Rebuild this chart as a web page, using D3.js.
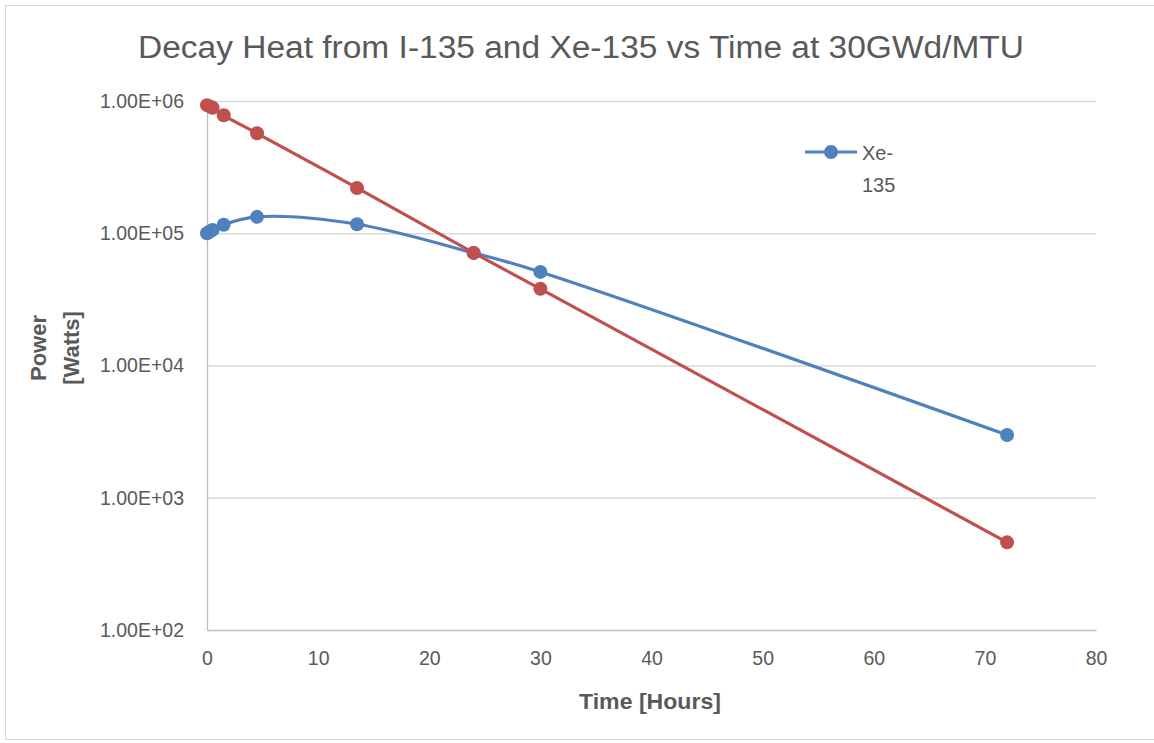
<!DOCTYPE html>
<html>
<head>
<meta charset="utf-8">
<script src="https://cdn.jsdelivr.net/npm/d3@7"></script>
<style>
  html, body { margin: 0; padding: 0; background: #fff; }
  svg { display: block; font-family: "Liberation Sans", Arial, sans-serif; }
</style>
</head>
<body>
<svg id="chart" width="1154" height="743"></svg>
<script>
// Time after shutdown (hours)
const hours = [0, 0.25, 0.5, 1.5, 4.5, 13.5, 24, 30, 72];
// Decay heat (W) from Xe-135
const xe135 = [1.0e5, 1.03e5, 1.06e5, 1.16e5, 1.33e5, 1.17e5, 7.1e4, 5.1e4, 2.98e3];
// Decay heat (W) from I-135
const i135 = [9.3e5, 9.1e5, 8.9e5, 7.8e5, 5.7e5, 2.2e5, 7.1e4, 3.8e4, 460];

const xTicks = [0, 10, 20, 30, 40, 50, 60, 70, 80];
const yTicks = [1e2, 1e3, 1e4, 1e5, 1e6];
const yTickLabels = ["1.00E+02", "1.00E+03", "1.00E+04", "1.00E+05", "1.00E+06"];

const titleText = "Decay Heat from I-135 and Xe-135 vs Time at 30GWd/MTU";
const xTitle = "Time [Hours]";
const yTitleLines = ["Power", "[Watts]"];
const legendLines = ["Xe-", "135"];

const BLUE = "#4f81bd", RED = "#c0504d", TEXT = "#595959";

const svg = d3.select("#chart");

// outer chart border
svg.append("rect")
  .attr("x", 5.5).attr("y", 5.5).attr("width", 1160).attr("height", 734)
  .attr("fill", "#fff").attr("stroke", "#d9d9d9");

const plot = { left: 207, right: 1096, top: 101, bottom: 630 };

const x = d3.scaleLinear().domain([0, 80]).range([plot.left, plot.right]);
const y = d3.scaleLog().domain([1e2, 1e6]).range([plot.bottom, plot.top]);

// horizontal gridlines
const gridAxis = d3.axisLeft(y).tickValues(yTicks.slice(1))
  .tickSize(-(plot.right - plot.left)).tickFormat("");
const grid = svg.append("g").attr("transform", `translate(${plot.left},0)`).call(gridAxis);
grid.select(".domain").remove();
grid.selectAll("line").attr("stroke", "#d9d9d9").attr("stroke-width", 1.3);

// y axis
const yAxis = d3.axisLeft(y).tickValues(yTicks).tickSize(0).tickPadding(23)
  .tickFormat((d, i) => yTickLabels[i]);
const gy = svg.append("g").attr("transform", `translate(${plot.left},0)`).call(yAxis);
gy.select(".domain").attr("stroke", "#bfbfbf").attr("stroke-width", 1.3);
gy.selectAll("text").attr("fill", TEXT).style("font-size", "19.5px")
  .style("font-family", "Liberation Sans, Arial, sans-serif");

// x axis
const xAxis = d3.axisBottom(x).tickValues(xTicks).tickSize(0).tickPadding(21);
const gx = svg.append("g").attr("transform", `translate(0,${plot.bottom})`).call(xAxis);
gx.select(".domain").attr("stroke", "#bfbfbf").attr("stroke-width", 1.3);
gx.selectAll("text").attr("fill", TEXT).style("font-size", "19.5px")
  .style("font-family", "Liberation Sans, Arial, sans-serif");

// titles
svg.append("text")
  .attr("x", 581).attr("y", 58).attr("text-anchor", "middle")
  .attr("fill", TEXT).style("font-size", "31px")
  .attr("textLength", 886).attr("lengthAdjust", "spacingAndGlyphs")
  .text(titleText);

svg.append("text")
  .attr("x", 650).attr("y", 709).attr("text-anchor", "middle")
  .attr("fill", TEXT).style("font-size", "22px").style("font-weight", "bold")
  .attr("textLength", 142).attr("lengthAdjust", "spacingAndGlyphs")
  .text(xTitle);

yTitleLines.forEach((t, i) => {
  svg.append("text")
    .attr("transform", `translate(${46 + i * 33},348) rotate(-90)`)
    .attr("text-anchor", "middle")
    .attr("fill", TEXT).style("font-size", "22px").style("font-weight", "bold")
    .text(t);
});

// series
const series = [
  { values: xe135, color: BLUE },
  { values: i135, color: RED }
];

const line = d3.line()
  .x(d => x(d[0]))
  .y(d => y(d[1]))
  .curve(d3.curveCatmullRom.alpha(0.5));

series.forEach(s => {
  const pts = hours.map((h, i) => [h, s.values[i]]);
  svg.append("path")
    .datum(pts)
    .attr("fill", "none")
    .attr("stroke", s.color)
    .attr("stroke-width", 3.2)
    .attr("d", line);
  svg.append("g").selectAll("circle")
    .data(pts).join("circle")
    .attr("cx", d => x(d[0]))
    .attr("cy", d => y(d[1]))
    .attr("r", 7)
    .attr("fill", s.color);
});

// legend
const lg = svg.append("g");
lg.append("line").attr("x1", 805).attr("x2", 857).attr("y1", 152).attr("y2", 152)
  .attr("stroke", BLUE).attr("stroke-width", 3.2);
lg.append("circle").attr("cx", 831).attr("cy", 152).attr("r", 7).attr("fill", BLUE);
legendLines.forEach((t, i) => {
  lg.append("text")
    .attr("x", 862).attr("y", 160 + i * 32)
    .attr("fill", TEXT).style("font-size", "20px")
    .text(t);
});
</script>
</body>
</html>
